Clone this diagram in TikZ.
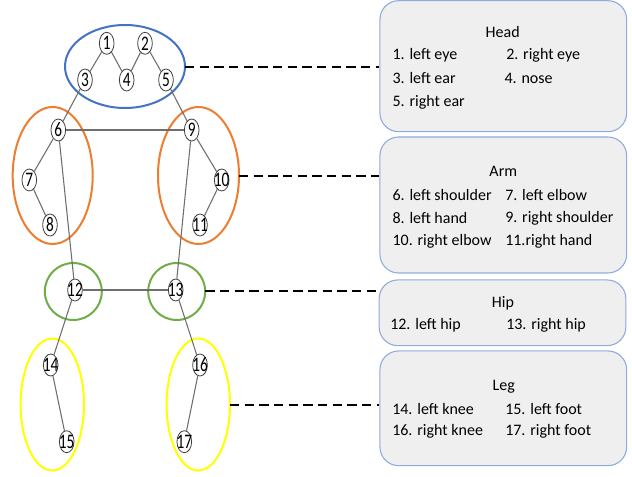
\documentclass[tikz,border=0pt]{standalone}
\usepackage{fontspec}
\setmainfont{Carlito}
\usetikzlibrary{shapes.geometric}
\definecolor{hblue}{HTML}{4472C4}
\definecolor{horange}{HTML}{ED7D31}
\definecolor{hgreen}{HTML}{70AD47}
\definecolor{hyellow}{HTML}{FFFF00}
\definecolor{boxborder}{HTML}{8FAADC}
\definecolor{boxfill}{HTML}{EFEFEF}
\definecolor{edgegray}{HTML}{6E6E6E}
\newcommand{\jnum}[1]{\scalebox{0.74}[1]{#1}}
\tikzset{
  jt/.style={ellipse, draw=black!75, fill=white, line width=0.6pt, inner sep=0pt,
    minimum width=11pt, minimum height=16.5pt, label={[font=\fontsize{15.5}{16}\selectfont, inner sep=0pt]center:\jnum{#1}}},
  bone/.style={draw=edgegray, line width=0.8pt},
  grp/.style={line width=1.5pt},
  infobox/.style={draw=boxborder, fill=boxfill, line width=0.8pt, rounded corners=14pt},
  txt/.style={font=\fontsize{12}{14}\selectfont, inner sep=0pt, anchor=west},
  ttl/.style={font=\fontsize{12}{14}\selectfont, inner sep=0pt},
  link/.style={draw=black, line width=1.6pt, dash pattern=on 7pt off 4pt}
}
\begin{document}
\begin{tikzpicture}[x=0.75pt,y=-0.75pt]
\useasboundingbox (0,0) rectangle (632,477);
% group outlines
\draw[grp, hblue] (125,66.5) ellipse [x radius=60, y radius=41.5];
\draw[grp, horange] (52.7,175.5) ellipse [x radius=40, y radius=68.5];
\draw[grp, horange] (198.5,175.5) ellipse [x radius=40.5, y radius=68.5];
\draw[grp, hgreen] (73.3,291.5) circle [radius=28.5];
\draw[grp, hgreen] (176.7,291.5) circle [radius=28.5];
\draw[grp, hyellow] (52.3,404.5) ellipse [x radius=31.7, y radius=66];
\draw[grp, hyellow] (198.3,404.5) ellipse [x radius=31.7, y radius=66];
% anchors for group sides
\coordinate (gh) at (185,67);
\coordinate (ga) at (239,176);
\coordinate (gp) at (205.2,291);
\coordinate (gl) at (230,405);
% joints
\node[jt=1] (n1) at (106.7,43.3) {};
\node[jt=2] (n2) at (145,43.3) {};
\node[jt=3] (n3) at (85,80) {};
\node[jt=4] (n4) at (126.7,80) {};
\node[jt=5] (n5) at (166,80) {};
\node[jt=6] (n6) at (58.3,130) {};
\node[jt=9] (n9) at (191.7,130) {};
\node[jt=7] (n7) at (29.3,180) {};
\node[jt=8] (n8) at (50,225) {};
\node[jt=10] (n10) at (221.7,180) {};
\node[jt=11] (n11) at (200,225) {};
\node[jt=12] (n12) at (75,290) {};
\node[jt=13] (n13) at (175.7,290) {};
\node[jt=14] (n14) at (50.7,365) {};
\node[jt=15] (n15) at (66.7,441.7) {};
\node[jt=16] (n16) at (200,365) {};
\node[jt=17] (n17) at (184.3,441.7) {};
% bones
\draw[bone] (n1) -- (n3);
\draw[bone] (n1) -- (n4);
\draw[bone] (n2) -- (n4);
\draw[bone] (n2) -- (n5);
\draw[bone] (n3) -- (n6);
\draw[bone] (n5) -- (n9);
\draw[bone] (n6) -- (n9);
\draw[bone] (n6) -- (n7);
\draw[bone] (n7) -- (n8);
\draw[bone] (n9) -- (n10);
\draw[bone] (n10) -- (n11);
\draw[bone] (n6) -- (n12);
\draw[bone] (n9) -- (n13);
\draw[bone] (n12) -- (n13);
\draw[bone] (n12) -- (n14);
\draw[bone] (n14) -- (n15);
\draw[bone] (n13) -- (n16);
\draw[bone] (n16) -- (n17);
% info boxes
\node[infobox, minimum width=246.7*0.75pt, minimum height=131*0.75pt] (bh) at (503.3,66.2) {};
\node[infobox, minimum width=246.7*0.75pt, minimum height=136*0.75pt] (ba) at (503.3,205) {};
\node[infobox, minimum width=246.7*0.75pt, minimum height=65.7*0.75pt] (bp) at (502.5,312.8) {};
\node[infobox, minimum width=246.7*0.75pt, minimum height=114.7*0.75pt] (bl) at (503.3,408.3) {};
% dashed links
\draw[link] (gh) -- (bh.west |- gh);
\draw[link] (ga) -- (ba.west |- ga);
\draw[link] (gp) -- (bp.west |- gp);
\draw[link] (gl) -- (bl.west |- gl);
% texts
\node[ttl] (th) at (502.7,31.7) {Head};
\node[txt] (h1) at (392.3,55) {1. left eye};
\node[txt] (h2) at (506,55) {2. right eye};
\node[txt] (h3) at (392.3,78.5) {3. left ear};
\node[txt] (h4) at (504.3,78.5) {4. nose};
\node[txt] (h5) at (392.3,102) {5. right ear};
\node[ttl] (ta) at (503.3,171.7) {Arm};
\node[txt] (a6) at (392.3,195) {6. left shoulder};
\node[txt] (a7) at (505,195) {7. left elbow};
\node[txt] (a8) at (392.3,218.3) {8. left hand};
\node[txt] (a9) at (505,218.3) {9. right shoulder};
\node[txt] (a10) at (392.3,241.7) {10. right elbow};
\node[txt] (a11) at (505,241.7) {11.right hand};
\node[ttl] (tp) at (503,303.3) {Hip};
\node[txt] (p12) at (390,325.7) {12. left hip};
\node[txt] (p13) at (506,325.7) {13. right hip};
\node[ttl] (tl) at (503.7,386.7) {Leg};
\node[txt] (l14) at (392,409.3) {14. left knee};
\node[txt] (l15) at (505,409.3) {15. left foot};
\node[txt] (l16) at (392,431.7) {16. right knee};
\node[txt] (l17) at (505,431.7) {17. right foot};
\end{tikzpicture}
\end{document}
